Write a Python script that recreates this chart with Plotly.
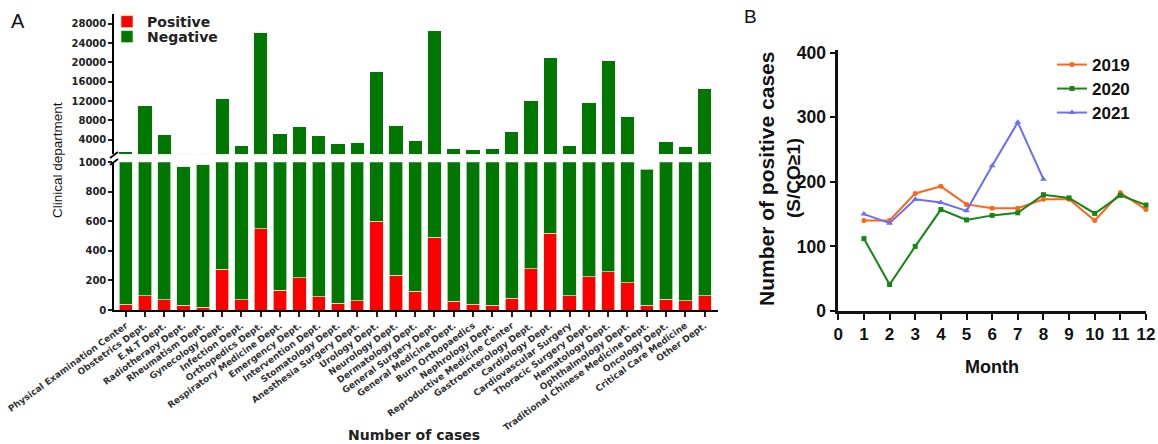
import plotly.graph_objects as go

W, H = 1158, 444

def px(x):
    return x / W

def py(y):
    return 1 - y / H

departments = [
    "Physical Examination Center", "Obstetrics Dept.", "E.N.T Dept.", "Radiotherapy Dept.",
    "Rheumatism Dept.", "Gynecology Dept.", "Infection Dept.", "Orthopedics Dept.",
    "Respiratory Medicine Dept.", "Emergency Dept.", "Intervention Dept.", "Stomatology Dept.",
    "Anesthesia Surgery Dept.", "Urology Dept.", "Neurology Dept.", "Dermatology Dept.",
    "General Surgery Dept.", "General Medicine Dept.", "Burn Orthopaedics", "Nephrology Dept.",
    "Reproductive Medicine Center", "Gastroenterology Dept.", "Cardiology Dept.",
    "Cardiovascular Surgery", "Thoracic Surgery Dept.", "Hematology Dept.",
    "Ophthalmology Dept.", "Traditional Chinese Medicine Dept.", "Oncology Dept.",
    "Critical Care Medicine", "Other Dept.",
]
positive = [38, 95, 70, 32, 18, 275, 70, 551, 133, 217, 90, 47, 61, 600, 235, 126,
            492, 59, 38, 32, 81, 278, 519, 95, 226, 260, 185, 32, 74, 61, 97]
negative = [1460, 10900, 4930, 938, 967, 12130, 2630, 25450, 4970, 6530, 4660, 3150,
            3340, 17500, 6520, 3670, 26010, 2140, 1760, 2070, 5520, 11720, 20380, 2660,
            11370, 20040, 8620, 920, 3380, 2540, 14400]

months = [1, 2, 3, 4, 5, 6, 7, 8, 9, 10, 11, 12]
cases_2019 = [140, 140, 182, 193, 165, 159, 159, 173, 173, 140, 183, 157]
cases_2020 = [112, 41, 100, 157, 141, 148, 152, 180, 175, 151, 179, 164]
months_2021 = [1, 2, 3, 4, 5, 6, 7, 8]
cases_2021 = [150, 136, 173, 168, 155, 225, 292, 204]

RED = "#FF0000"
GREEN = "#007700"
C19 = "#FF6419"
C20 = "#158515"
C21 = "#6B6BFF"

DV = "DejaVu Sans"
LS = "Liberation Sans"
bar_line = dict(color="rgba(215,235,215,0.9)", width=0.8)
no_line = dict(width=0)

fig = go.Figure()

# lower panel (0-1000)
fig.add_trace(go.Bar(x=departments, y=positive, name="Positive", marker=dict(color=RED, line=bar_line),
                     width=0.69, xaxis="x", yaxis="y", legend="legend"))
fig.add_trace(go.Bar(x=departments, y=negative, name="Negative", marker=dict(color=GREEN, line=bar_line),
                     width=0.69, xaxis="x", yaxis="y", legend="legend3"))
# upper panel (1000-30000)
fig.add_trace(go.Bar(x=departments, y=positive, name="Positive", marker=dict(color=RED, line=no_line),
                     width=0.69, xaxis="x2", yaxis="y2", showlegend=False))
fig.add_trace(go.Bar(x=departments, y=negative, name="Negative", marker=dict(color=GREEN, line=no_line),
                     width=0.69, xaxis="x2", yaxis="y2", showlegend=False))

# right panel
fig.add_trace(go.Scatter(x=months, y=cases_2019, name="2019", mode="lines+markers",
                         line=dict(color=C19, width=2), marker=dict(symbol="circle", size=5, color=C19),
                         xaxis="x3", yaxis="y3", legend="legend2", cliponaxis=False))
fig.add_trace(go.Scatter(x=months, y=cases_2020, name="2020", mode="lines+markers",
                         line=dict(color=C20, width=2), marker=dict(symbol="square", size=5, color=C20),
                         xaxis="x3", yaxis="y3", legend="legend4", cliponaxis=False))
fig.add_trace(go.Scatter(x=months_2021, y=cases_2021, name="2021", mode="lines+markers",
                         line=dict(color=C21, width=2), marker=dict(symbol="triangle-up", size=6, color=C21),
                         xaxis="x3", yaxis="y3", legend="legend5", cliponaxis=False))

left_dom = [px(114.3), px(718)]
xr = [-0.59, 30.69]
tickfont_l = dict(family=DV, size=10, color="#222", weight="bold")
legfont_l = dict(family=DV, size=14, color="#222", weight="bold")
legfont_r = dict(family=LS, size=17, color="#111", weight="bold")

def leg(x, y, font):
    return dict(x=px(x), y=py(y), xanchor="left", yanchor="top", traceorder="normal",
                bgcolor="rgba(0,0,0,0)", font=font)

fig.update_layout(
    width=W, height=H, margin=dict(l=0, r=0, t=0, b=0, autoexpand=False),
    paper_bgcolor="white", plot_bgcolor="white",
    barmode="stack", bargap=0.31,
    xaxis=dict(domain=left_dom, anchor="y", range=xr, showline=True, linecolor="black", linewidth=2,
               ticks="outside", ticklen=5, tickwidth=2, tickcolor="#222", tickangle=-36, automargin=False,
               tickfont=dict(family=DV, size=9, color="#333", weight="bold"), showgrid=False),
    yaxis=dict(domain=[py(310), py(162.3)], anchor="x", range=[0, 1000], tickvals=[0, 200, 400, 600, 800, 1000],
               showline=True, linecolor="black", linewidth=2, ticks="outside", ticklen=4, tickwidth=1.5,
               tickcolor="#222", tickfont=tickfont_l, showgrid=False, zeroline=False, automargin=False,
               tickformat="d"),
    xaxis2=dict(domain=left_dom, anchor="y2", range=xr, matches="x", showticklabels=False,
                showline=False, ticks="", showgrid=False, automargin=False),
    yaxis2=dict(domain=[py(154.3), py(14)], anchor="x2", range=[1000, 30000],
                tickvals=[4000, 8000, 12000, 16000, 20000, 24000, 28000], tickformat="d",
                showline=True, linecolor="black", linewidth=2, ticks="outside", ticklen=4, tickwidth=1.5,
                tickcolor="#222", tickfont=tickfont_l, showgrid=False, zeroline=False, automargin=False),
    xaxis3=dict(domain=[px(838.3), px(1146)], anchor="y3", range=[0, 12], tickvals=list(range(13)),
                showline=True, linecolor="#111", linewidth=2.5, ticks="outside", ticklen=6, tickwidth=2,
                tickcolor="#111", tickfont=dict(family=LS, size=17, color="#111", weight="bold"),
                showgrid=False, zeroline=False, automargin=False),
    yaxis3=dict(domain=[py(311), py(50)], anchor="x3", range=[0, 404], tickvals=[0, 100, 200, 300, 400],
                showline=True, linecolor="#111", linewidth=2.5, ticks="outside", ticklen=6, tickwidth=2,
                tickcolor="#111", tickfont=dict(family=LS, size=17.5, color="#111", weight="bold"),
                showgrid=False, zeroline=False, automargin=False),
    legend=leg(107, 6, legfont_l),
    legend3=leg(107, 21, legfont_l),
    legend2=leg(1052, 47, legfont_r),
    legend4=leg(1052, 71, legfont_r),
    legend5=leg(1052, 95, legfont_r),
    showlegend=True,
)

annotations = [
    dict(text="A", x=px(18), y=py(21), font=dict(family=LS, size=20, color="#111")),
    dict(text="B", x=px(750), y=py(17), font=dict(family=LS, size=19, color="#111")),
    dict(text="Clinical department", x=px(57), y=py(160), textangle=-90,
         font=dict(family=LS, size=13.5, color="#111")),
    dict(text="Number of cases", x=px(414), y=py(435),
         font=dict(family=DV, size=14, color="#222", weight="bold")),
    dict(text="Month", x=px(992), y=py(367),
         font=dict(family=LS, size=18, color="#111", weight="bold")),
    dict(text="Number of positive cases", x=px(766), y=py(179), textangle=-90,
         font=dict(family=LS, size=21, color="#111", weight="bold")),
    dict(text="(S/CO≥1)", x=px(793), y=py(178), textangle=-90,
         font=dict(family=LS, size=19, color="#111", weight="bold")),
]
for a in annotations:
    a.update(xref="paper", yref="paper", showarrow=False, xanchor="center", yanchor="middle")
fig.update_layout(annotations=annotations)

shapes = [
    # white band hiding the gap between the two halves of the broken axis
    dict(type="rect", xref="paper", yref="paper", x0=px(115.5), x1=px(720), y0=py(161.5), y1=py(154.2),
         fillcolor="white", line=dict(width=0), layer="above"),
]
# axis break marks
for (x0, y0, x1, y1) in [(110, 158, 118, 152), (110, 165, 118, 159)]:
    shapes.append(dict(type="line", xref="paper", yref="paper", x0=px(x0), y0=py(y0), x1=px(x1), y1=py(y1),
                       line=dict(color="black", width=1.8)))
fig.update_layout(shapes=shapes)

fig.write_html("out.html")
